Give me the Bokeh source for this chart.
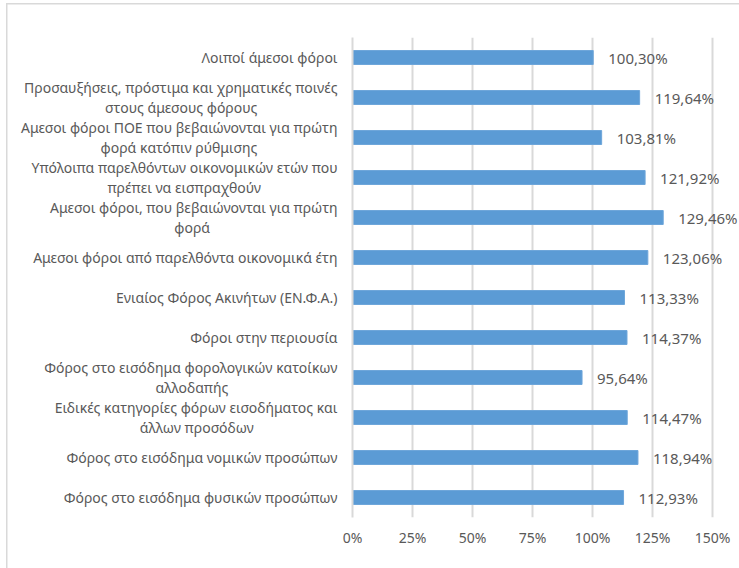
import glob
import subprocess
from bokeh.plotting import figure
from bokeh.models import FactorRange, Range1d, FixedTicker, PrintfTickFormatter, ColumnDataSource, LabelSet
from bokeh.core.properties import value
from bokeh.embed import file_html
from bokeh.resources import INLINE

categories = [
    "Λοιποί άμεσοι φόροι",
    "Προσαυξήσεις, πρόστιμα και χρηματικές ποινές\nστους άμεσους φόρους",
    "Αμεσοι φόροι ΠΟΕ που βεβαιώνονται για πρώτη\nφορά κατόπιν ρύθμισης",
    "Υπόλοιπα παρελθόντων οικονομικών ετών που\nπρέπει να εισπραχθούν",
    "Αμεσοι φόροι, που βεβαιώνονται για πρώτη\nφορά",
    "Αμεσοι φόροι από παρελθόντα οικονομικά έτη",
    "Ενιαίος Φόρος Ακινήτων (ΕΝ.Φ.Α.)",
    "Φόροι στην περιουσία",
    "Φόρος στο εισόδημα φορολογικών κατοίκων\nαλλοδαπής",
    "Ειδικές κατηγορίες φόρων εισοδήματος και\nάλλων προσόδων",
    "Φόρος στο εισόδημα νομικών προσώπων",
    "Φόρος στο εισόδημα φυσικών προσώπων",
]
values = [100.30, 119.64, 103.81, 121.92, 129.46, 123.06, 113.33, 114.37, 95.64, 114.47, 118.94, 112.93]
x_ticks = [0, 25, 50, 75, 100, 125, 150]

FONT = "Noto Sans"
GREY = "#595959"
CAT_SIZE = 14


def find_font():
    try:
        out = subprocess.run(["fc-match", "-f", "%{file}", "Noto Sans"],
                             capture_output=True, text=True, timeout=10).stdout.strip()
        if out:
            return out
    except Exception:
        pass
    for pat in ["/usr/share/fonts/**/NotoSans-Regular.*", "/usr/local/share/fonts/**/NotoSans-Regular.*",
                "/usr/share/fonts/**/NotoSans*Regular*"]:
        hits = glob.glob(pat, recursive=True)
        if hits:
            return hits[0]
    return None


def make_measure():
    try:
        from PIL import ImageFont
        f = ImageFont.truetype(find_font(), CAT_SIZE * 10)
        return lambda s: f.getlength(s) / 10.0
    except Exception:
        def approx(s):
            return sum(0.26 * CAT_SIZE if ch in " \u00a0" else 0.52 * CAT_SIZE for ch in s)
        return approx


measure = make_measure()
nbsp_w = max(measure("\u00a0"), 1.0)


def centered(label):
    # the axis right-aligns each line; pad shorter lines so they sit centred
    lines = label.split("\n")
    if len(lines) == 1:
        return label
    widths = [measure(l) for l in lines]
    W = max(widths)
    out = []
    for l, w in zip(lines, widths):
        n = int(round((W - w) / 2.0 / nbsp_w))
        out.append(l + "\u00a0" * n)
    return "\n".join(out)


display = [centered(c) for c in categories]
labels = [f"{v:.2f}".replace(".", ",") + "%" for v in values]
src = ColumnDataSource(dict(cat=display, val=values, lab=labels))

p = figure(width=739, height=568, output_backend="svg", toolbar_location=None,
           y_range=FactorRange(*reversed(display)), x_range=Range1d(0, 161.25),
           min_border_left=352, min_border_right=0, min_border_top=37, min_border_bottom=51)
p.border_fill_color = None
p.styles = {
    "background": ("linear-gradient(#d9d9d9, #d9d9d9) 6px 3px / 1.5px 100% no-repeat, "
                   "linear-gradient(#d9d9d9, #d9d9d9) 6px 3px / 100% 1.5px no-repeat, white"),
}
p.outline_line_color = None

p.hbar(y="cat", right="val", left=0, height=0.35, source=src,
       fill_color="#5b9bd5", line_color="#6ea6da", line_width=1)

p.add_layout(LabelSet(x="val", y="cat", text="lab", source=src, x_offset=15,
                      text_baseline="middle", text_align="left", text_color=GREY,
                      text_font=value(FONT), text_font_size="15px"))

p.xaxis.ticker = FixedTicker(ticks=x_ticks)
p.xaxis.formatter = PrintfTickFormatter(format="%d%%")
p.xaxis.axis_line_color = None
p.xaxis.major_tick_line_color = None
p.xaxis.minor_tick_line_color = None
p.xaxis.major_label_text_color = GREY
p.xaxis.major_label_text_font = FONT
p.xaxis.major_label_text_font_size = "14px"
p.xaxis.major_label_standoff = 4

p.yaxis.axis_line_color = "#d9d9d9"
p.yaxis.axis_line_width = 2
p.yaxis.major_tick_line_color = None
p.yaxis.minor_tick_line_color = None
p.yaxis.major_label_text_color = GREY
p.yaxis.major_label_text_font = FONT
p.yaxis.major_label_text_font_size = f"{CAT_SIZE}px"
p.yaxis.major_label_text_line_height = 1.07
p.yaxis.major_label_standoff = 9

p.xgrid.grid_line_color = "#d9d9d9"
p.xgrid.grid_line_width = 2
p.ygrid.grid_line_color = None

open("out.html", "w").write(file_html(p, INLINE))
